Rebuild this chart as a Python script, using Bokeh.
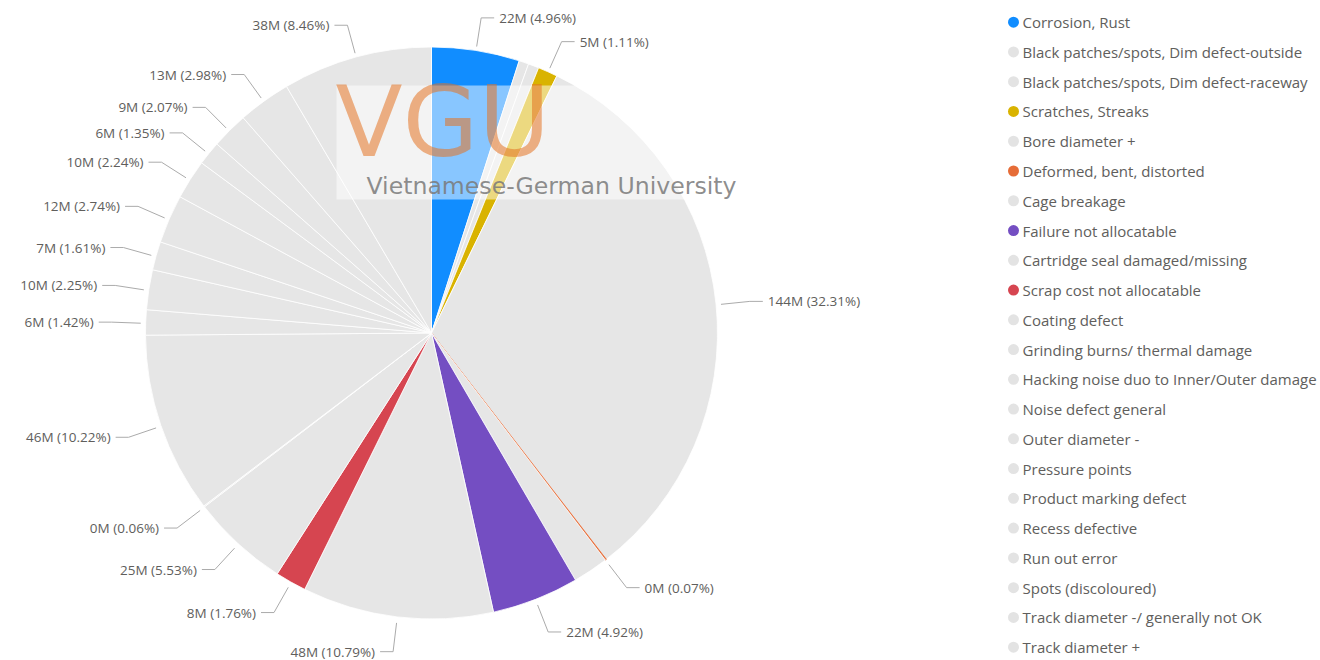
import numpy as np
from bokeh.plotting import figure
from bokeh.models import Range1d, ColumnDataSource
from bokeh.core.properties import value
from bokeh.embed import file_html
from bokeh.resources import INLINE

# ---------------- data ----------------
categories = [
    "Corrosion, Rust",
    "Black patches/spots, Dim defect-outside",
    "Black patches/spots, Dim defect-raceway",
    "Scratches, Streaks",
    "Bore diameter +",
    "Deformed, bent, distorted",
    "Cage breakage",
    "Failure not allocatable",
    "Cartridge seal damaged/missing",
    "Scrap cost not allocatable",
    "Coating defect",
    "Grinding burns/ thermal damage",
    "Hacking noise duo to Inner/Outer damage",
    "Noise defect general",
    "Outer diameter -",
    "Pressure points",
    "Product marking defect",
    "Recess defective",
    "Run out error",
    "Spots (discoloured)",
    "Track diameter -/ generally not OK",
    "Track diameter +",
]
share_pct = [4.96, 0.55, 0.60, 1.11, 32.31, 0.07, 2.00, 4.92, 10.79, 1.76, 5.53,
             0.06, 10.22, 1.42, 2.25, 1.61, 2.74, 2.24, 1.35, 2.07, 2.98, 8.46]
value_m = [22, 2, 3, 5, 144, 0, 9, 22, 48, 8, 25, 0, 46, 6, 10, 7, 12, 10, 6, 9, 13, 38]
labelled = [True, False, False, True, True, True, False, True, True, True, True,
            True, True, True, True, True, True, True, True, True, True, True]
slice_colors = ["#118DFF", "#E6E6E6", "#E6E6E6", "#D9B300", "#E6E6E6", "#E66C37",
                "#E6E6E6", "#744EC2", "#E6E6E6", "#D64550", "#E6E6E6", "#E6E6E6",
                "#E6E6E6", "#E6E6E6", "#E6E6E6", "#E6E6E6", "#E6E6E6", "#E6E6E6",
                "#E6E6E6", "#E6E6E6", "#E6E6E6", "#E6E6E6"]

# ---------------- layout (page pixel coordinates, y flipped) ----------------
W, H = 1320, 660
def Y(ys):
    return H - ys

CX, CY, R = 431, Y(332.5), 286
LCY = Y(333.5)
FONT = "Open Sans"
TXT = "#605E5C"

p = figure(width=W, height=H, x_range=Range1d(0, W), y_range=Range1d(0, H),
           output_backend="svg", toolbar_location=None, min_border=0,
           outline_line_color=None, background_fill_color="white")
p.axis.visible = False
p.grid.visible = False

pct = np.array(share_pct)
frac = pct / pct.sum()
t1 = np.cumsum(frac) * 2 * np.pi
t0 = t1 - frac * 2 * np.pi
mid = (t0 + t1) / 2

edge = ["white"] * len(categories)
edge[5] = slice_colors[5]
src = ColumnDataSource(dict(start=np.pi / 2 - t0, end=np.pi / 2 - t1,
                            color=slice_colors, edge=edge))
p.wedge(x=CX, y=CY, radius=R, start_angle="start", end_angle="end", direction="clock",
        fill_color="color", line_color="edge", line_width=0.8, source=src)

# leader lines and labels
lx, ly, tx, ty, tt, ta = [], [], [], [], [], []
for i in range(len(categories)):
    if not labelled[i]:
        continue
    s, c = np.sin(mid[i]), np.cos(mid[i])
    x0, y0 = CX + 291 * s, LCY + 291 * c
    x1, y1 = CX + 320 * s, LCY + 320 * c
    d = 1 if s >= 0 else -1
    x2 = x1 + 13 * d
    lx.append([x0, x1, x2]); ly.append([y0, y1, y1])
    tx.append(x2 + 5 * d); ty.append(y1)
    tt.append(f"{value_m[i]}M ({share_pct[i]:.2f}%)")
    ta.append("left" if d > 0 else "right")

p.multi_line(xs=lx, ys=ly, line_color="#ABABAB", line_width=1)
p.text(x=tx, y=ty, text=tt, text_align=ta, text_baseline="middle",
       text_font=value(FONT), text_font_size="13.5px", text_color=TXT)

# legend
n = len(categories)
leg_y = [Y(21.7 + i * 29.76) for i in range(n)]
legend_colors = [c if c != "#E6E6E6" else "#E3E3E3" for c in slice_colors]
p.scatter(x=[1013] * n, y=leg_y, size=11, marker="circle", fill_color=legend_colors,
          line_color=None)
p.text(x=[1022] * n, y=leg_y, text=categories, text_baseline="middle",
       text_font=value(FONT), text_font_size="15px", text_color=TXT)

# watermark
p.quad(left=[336], right=[735], top=[Y(85)], bottom=[Y(199)],
       fill_color="white", fill_alpha=0.5, line_color=None)
p.text(x=[335], y=[Y(121.5)], text=["VGU"], text_baseline="middle",
       text_font=value("DejaVu Sans"), text_font_size="98px",
       text_color="#E37222", text_alpha=0.55)
p.text(x=[366], y=[Y(185)], text=["Vietnamese-German University"], text_baseline="middle",
       text_font=value("DejaVu Sans"), text_font_size="23.6px",
       text_color="#7A7A7A", text_alpha=0.85)

open("out.html", "w").write(file_html(p, INLINE))
